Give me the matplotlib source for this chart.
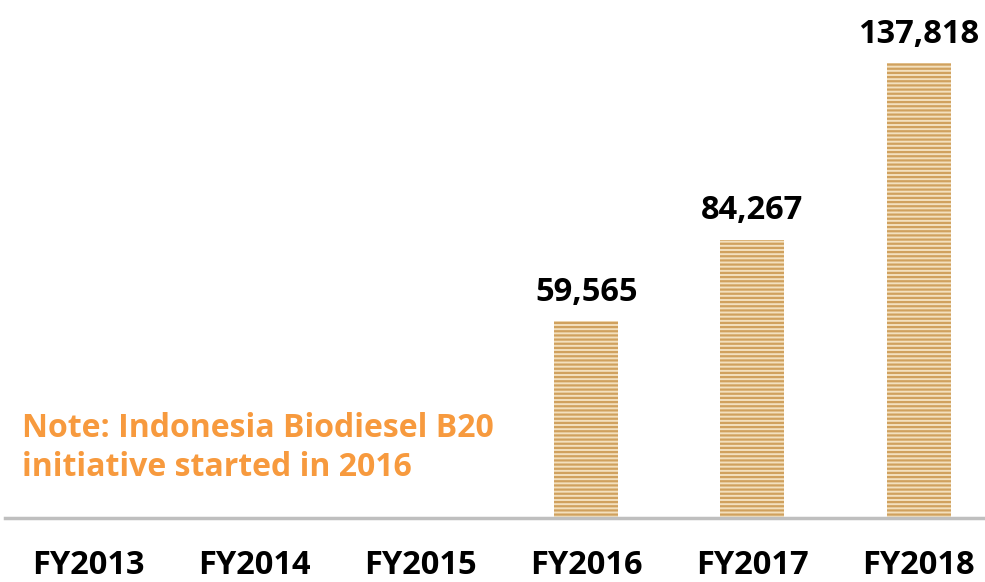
import matplotlib.pyplot as plt

# values
years = ["FY2013", "FY2014", "FY2015", "FY2016", "FY2017", "FY2018"]
volumes = [0, 0, 0, 59565, 84267, 137818]
labels = ["", "", "", "59,565", "84,267", "137,818"]
note = "Note: Indonesia Biodiesel B20\ninitiative started in 2016"

plt.rcParams['font.family'] = ['Open Sans', 'DejaVu Sans']
plt.rcParams['hatch.linewidth'] = 1.6
plt.rcParams['hatch.color'] = '#D0A15E'

fig = plt.figure(figsize=(9.85, 5.82), dpi=100)
ax = fig.add_axes([0.005, 0.11, 0.995, 0.89])

x = range(len(years))
bars = ax.bar(x, volumes, width=0.385, color='#F3E0BE', hatch='----',
              edgecolor='#D0A15E', linewidth=0)

for xi, v, lab in zip(x, volumes, labels):
    if lab:
        ax.text(xi, v + 3800, lab, ha='center', va='bottom',
                fontsize=23.5, fontweight='bold', color='black')

ax.text(0.017, 0.205, note, transform=ax.transAxes, ha='left', va='top',
        fontsize=23, fontweight='bold', color='#F79A3E', linespacing=1.25)

ax.set_xlim(-0.5, 5.4)
ax.set_ylim(0, 157000)
ax.set_xticks(list(x))
ax.set_xticklabels(years, fontsize=23.5, fontweight='bold')
ax.tick_params(axis='x', length=0, pad=22)
ax.set_yticks([])
for s in ['top', 'right', 'left']:
    ax.spines[s].set_visible(False)
ax.spines['bottom'].set_color('#BFBFBF')
ax.spines['bottom'].set_linewidth(2.5)

fig.savefig("out.png", dpi=100)
